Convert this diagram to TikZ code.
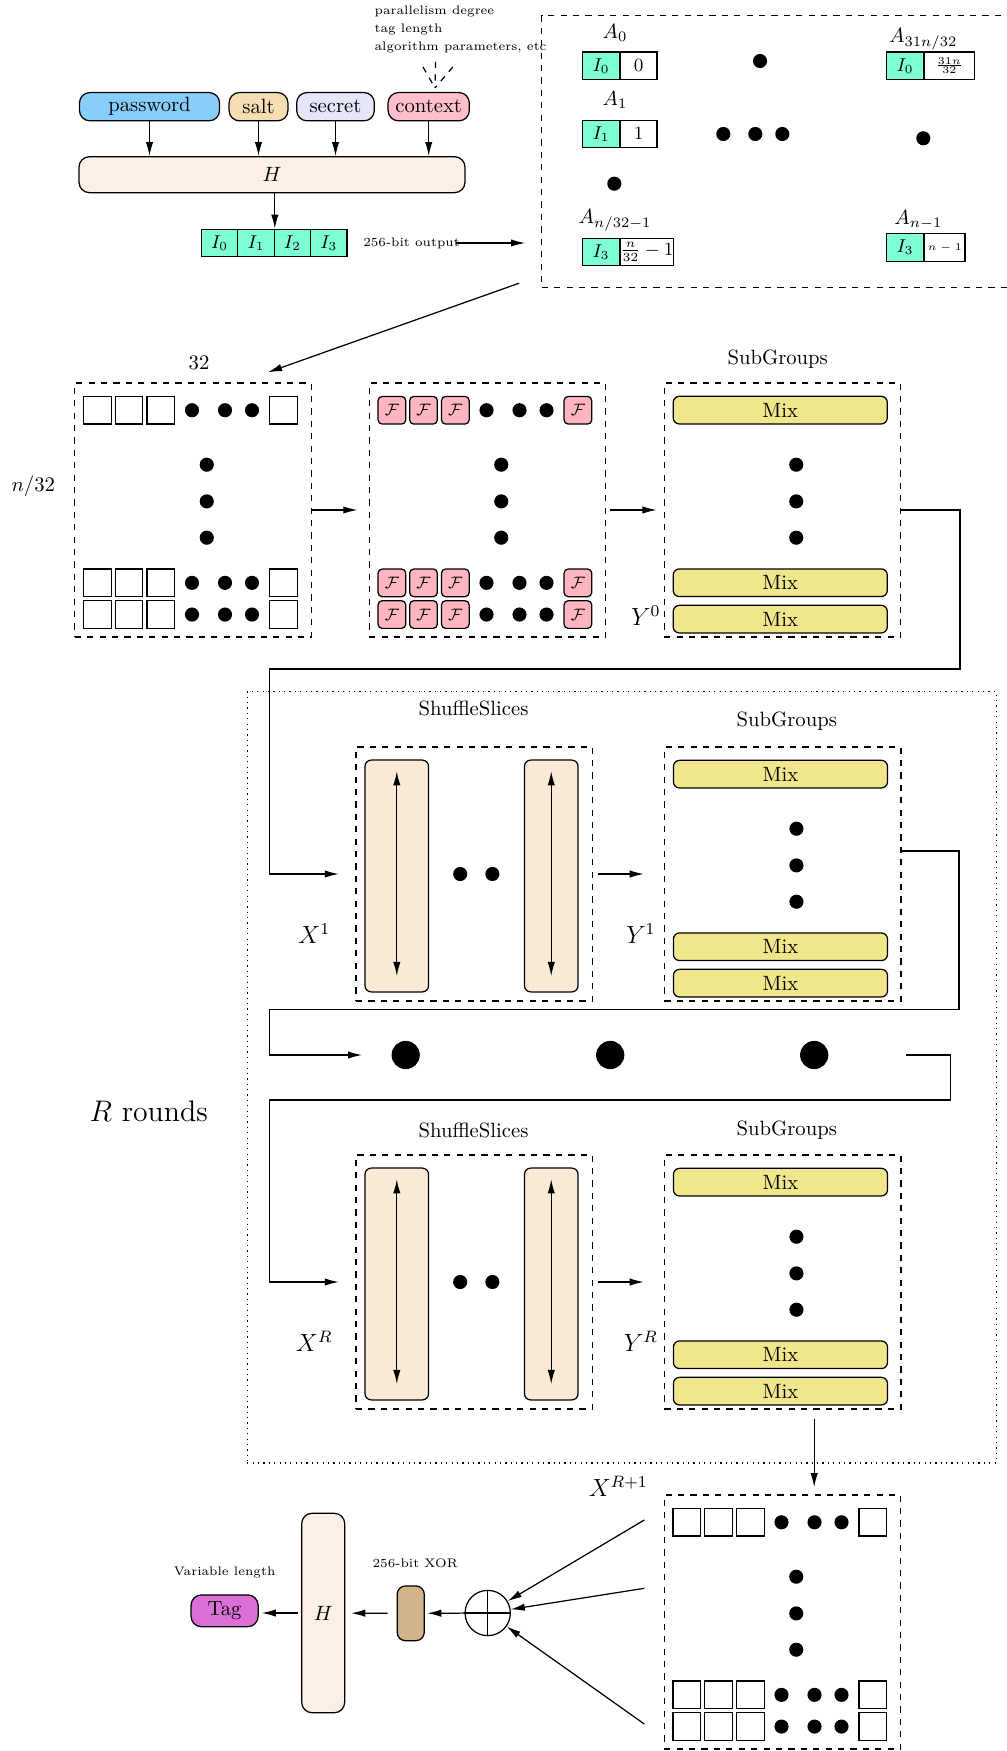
\documentclass[tikz,border=0pt]{standalone}
\usetikzlibrary{arrows.meta, positioning}
\definecolor{pwblue}{RGB}{135,206,250}
\definecolor{saltc}{RGB}{245,222,179}
\definecolor{secretc}{RGB}{230,230,250}
\definecolor{contextc}{RGB}{255,192,203}
\definecolor{hlinen}{RGB}{250,240,230}
\definecolor{aqua}{RGB}{127,255,212}
\definecolor{fpink}{RGB}{255,182,193}
\definecolor{mixc}{RGB}{240,230,140}
\definecolor{shufc}{RGB}{250,235,215}
\definecolor{tanc}{RGB}{210,180,140}
\definecolor{tagc}{RGB}{218,112,214}
\tikzset{
  >={Latex[length=2.4mm, width=1.25mm]},
  inbox/.style = {draw, rounded corners=5pt, minimum height=0.48cm, inner sep=1pt},
  hashbox/.style = {draw, rounded corners=5pt, fill=hlinen},
  icell/.style = {draw, fill=aqua, minimum width=0.62cm, minimum height=0.465cm, inner sep=0pt, font=\small},
  vcell/.style = {draw, fill=white, minimum height=0.465cm, inner sep=0pt, font=\small},
  cell/.style = {draw, minimum size=0.47cm, inner sep=0pt},
  fcell/.style = {cell, rounded corners=2pt, fill=fpink, font=\footnotesize},
  blob/.style = {circle, fill, inner sep=0pt, minimum size=0.24cm},
  bigblob/.style = {blob, minimum size=0.48cm},
  block/.style = {draw, dashed, minimum width=4.02cm, minimum height=4.32cm, inner sep=0pt},
  mixbar/.style = {draw, rounded corners=3pt, fill=mixc, minimum width=3.64cm, minimum height=0.47cm, inner sep=0pt},
  slice/.style = {draw, rounded corners=3pt, fill=shufc, minimum height=3.94cm, inner sep=0pt},
  note/.style = {font=\fontsize{6pt}{8.6pt}\selectfont},
}

\begin{document}
\begin{tikzpicture}[x=0.017cm, y=-0.017cm, semithick]
  \useasboundingbox (0,0) rectangle (1006,1751);

  % inputs and first hash
  \node[inbox, fill=pwblue, minimum width=2.38cm] (pw) at (149.5,106.7) {password};
  \node[inbox, fill=saltc, minimum width=1.0cm] (salt) at (258.5,106.7) {salt};
  \node[inbox, fill=secretc, minimum width=1.32cm] (secret) at (335.5,106.7) {secret};
  \node[inbox, fill=contextc, minimum width=1.38cm] (ctx) at (428.7,106.7) {context};
  \node[hashbox, minimum width=6.56cm, minimum height=0.61cm] (H1) at (272,174.7) {$H$};
  \foreach \n in {pw, salt, secret, ctx}
    \draw[->] (\n.south) -- (\n.south |- H1.north);

  \node[note, align=left, anchor=west, inner sep=0pt] (params) at (374,29.5)
    {parallelism degree\\tag length\\algorithm parameters, etc};
  \coordinate (hc) at (435,88);
  \coordinate (h1) at (423,67);
  \coordinate (h2) at (435.6,62);
  \coordinate (h3) at (452.8,67);
  \draw[dashed] (h1) -- (hc) (h2) -- (hc) (h3) -- (hc);

  \foreach \k [count=\i from 0] in {219.6,256,292.4,328.8}
    \node[icell] (i\i) at (\k,243) {$I_\i$};
  \draw[->] (H1.south -| i1.north east) -- (i1.north east);
  \node[note, inner sep=0pt] (outlbl) at (411.5,243) {256-bit output};

  % address box
  \node[block, minimum width=8.13cm, minimum height=4.62cm] (Abox) at (780.85,151.5) {};
  \draw[->, shorten >=0.27cm] ([xshift=-2pt]outlbl.east) -- (outlbl.east -| Abox.west);
  \node[icell] (a0i) at (601,65.8) {$I_0$};
  \node[vcell, minimum width=0.62cm, right=0pt of a0i] (a0v) {$0$};
  \node (a0) at (615,33.3) {$A_0$};
  \node[icell] (a1i) at (601,134) {$I_1$};
  \node[vcell, minimum width=0.62cm, right=0pt of a1i] (a1v) {$1$};
  \node (a1) at (615,100) {$A_1$};
  \node[icell] (a2i) at (601,252) {$I_3$};
  \node[vcell, minimum width=0.85cm, right=0pt of a2i] (a2v) {$\frac{n}{32}-1$};
  \node (a2) at (615,220) {$A_{n/32-1}$};
  \node[icell] (a3i) at (905,65.8) {$I_0$};
  \node[vcell, minimum width=0.85cm, font=\tiny, right=0pt of a3i] (a3v) {$\frac{31n}{32}$};
  \node (a3) at (923.3,39.3) {$A_{31n/32}$};
  \node[icell] (a4i) at (905,247.5) {$I_3$};
  \node[vcell, minimum width=0.69cm, font=\tiny, right=0pt of a4i] (a4v) {$n-1$};
  \node (a4) at (918.3,220) {$A_{n-1}$};
  \foreach \p [count=\i] in {(614.3,183.7),(760,61),(723.3,134),(755.3,134),(782.3,134),(923.3,138.3)}
    \node[blob] (ab\i) at \p {};

  % grid blocks
  \foreach \cx/\cy/\nm in {193/510/xin, 782.5/1622/xout} {
    \node[block] (\nm) at (\cx,\cy) {};
    \foreach \dy [count=\j] in {-99.75,72.85,104.55} {
      \foreach \dx [count=\i] in {-95.6,-64,-32.2,90.4}
        \node[cell] (\nm-c\j\i) at (\cx+\dx,\cy+\dy) {};
      \foreach \dx [count=\i] in {-1,32,59}
        \node[blob] (\nm-d\j\i) at (\cx+\dx,\cy+\dy) {};
    }
    \foreach \dy [count=\j] in {-45.3,-8.6,27.7}
      \node[blob] (\nm-v\j) at (\cx+13.75,\cy+\dy) {};
  }

  % F block
  \node[block] (fblk) at (487.5,510) {};
  \foreach \dy [count=\j] in {-99.75,72.85,104.55} {
    \foreach \dx [count=\i] in {-95.6,-64,-32.2,90.4}
      \node[fcell] (fblk-c\j\i) at (487.5+\dx,510+\dy) {$\mathcal{F}$};
    \foreach \dx [count=\i] in {-1,32,59}
      \node[blob] (fblk-d\j\i) at (487.5+\dx,510+\dy) {};
  }
  \foreach \dy [count=\j] in {-45.3,-8.6,27.7}
    \node[blob] (fblk-v\j) at (501.25,510+\dy) {};

  % subgroups
  \foreach \cx/\cy/\nm in {782.5/510/sg0, 782.7/874/sg1, 782.7/1282/sgR} {
    \node[block] (\nm) at (\cx,\cy) {};
    \foreach \dy [count=\j] in {-99.85,72.75,109.15}
      \node[mixbar] (\nm-m\j) at (\cx-2.25,\cy+\dy) {Mix};
    \foreach \dy [count=\j] in {-45.3,-8.6,27.7}
      \node[blob] (\nm-v\j) at (\cx+13.75,\cy+\dy) {};
  }

  % shuffle slices
  \foreach \cy/\nm in {874/sh1, 1282/shR} {
    \node[block] (\nm) at (474.25,\cy) {};
    \node[slice, minimum width=1.08cm] (\nm-a) at (396.8,\cy+2) {};
    \node[slice, minimum width=0.91cm] (\nm-b) at (551.25,\cy+2) {};
    \foreach \s in {a,b}
      \draw[<->, shorten <=0.2cm, shorten >=0.28cm] (\nm-\s.north) -- (\nm-\s.south);
    \node[blob] (\nm-d1) at (460.2,\cy) {};
    \node[blob] (\nm-d2) at (492.4,\cy) {};
  }

  % rounds
  \node[draw, dotted, minimum width=12.73cm, minimum height=13.11cm, inner sep=0pt] (rounds) at (621.7,1077.4) {};
  \node[font=\Large] (rlbl) at (148.7,1111) {$R$ rounds};
  \node[bigblob] (dotA) at (405.7,1055) {};
  \node[bigblob] (dotB) at (610.2,1055) {};
  \node[bigblob] (dotC) at (814.2,1055) {};

  % labels
  \node (w32) at (199,363.3) {$32$};
  \node (h32) at (33.3,486.7) {$n/32$};
  \node (sgl0) at (777.7,359.3) {SubGroups};
  \node (sgl1) at (786.8,721.7) {SubGroups};
  \node (sglR) at (786.8,1130) {SubGroups};
  \node (shl1) at (473.5,708.3) {ShuffleSlices};
  \node (shlR) at (473.5,1130) {ShuffleSlices};
  \node[font=\large] (y0) at (645.7,616) {$Y^0$};
  \node[font=\large] (x1) at (314.2,933.3) {$X^1$};
  \node[font=\large] (y1) at (640.9,933.3) {$Y^1$};
  \node[font=\large] (xr) at (314.2,1341.7) {$X^R$};
  \node[font=\large] (yr) at (640.9,1341.7) {$Y^R$};
  \node[font=\large] (xr1) at (618.3,1486.7) {$X^{R+1}$};

  % connectors
  \draw[->] ([shift={(-22,-4.8)}]Abox.south west) -- ([shift={(75,-10)}]xin.north);
  \draw[->, shorten >=0.19cm] (xin.east) -- (fblk.west);
  \draw[->, shorten <=0.07cm, shorten >=0.12cm] (fblk.east) -- (sg0.west);
  \draw[->, shorten <=0.09cm, shorten >=0.34cm] (sh1.east) -- (sg1.west);
  \draw[->, shorten <=0.09cm, shorten >=0.34cm] (shR.east) -- (sgR.west);

  \coordinate (back1) at (960,669);
  \coordinate (left1) at (269.6,669);
  \draw[->, shorten >=0.28cm] (sg0.east) -| (back1) -- (left1) |- (sh1.west);
  \coordinate (back2) at (959,1009.3);
  \coordinate (left2) at (269.6,1009.3);
  \draw[->, shorten >=0.49cm] ([yshift=0.39cm]sg1.east) -| (back2) -- (left2) |- (dotA);
  \coordinate (back3) at (950.3,1100);
  \coordinate (left3) at (269.6,1100);
  \draw[->, shorten <=1.31cm, shorten >=0.28cm] (dotC) -| (back3) -- (left3) |- (shR.west);
  \draw[->, shorten <=0.16cm, shorten >=0.12cm] ([xshift=0.535cm]sgR.south) -- ([xshift=0.535cm]sgR.south |- xout.north);

  % final hash
  \node[draw, circle, minimum size=0.77cm, inner sep=0pt] (xor) at (487.7,1613) {};
  \draw (xor.north) -- (xor.south) (xor.west) -- (xor.east);
  \coordinate (t1) at (644.3,1520);
  \coordinate (t2) at (644.3,1588.3);
  \coordinate (t3) at (644.3,1724);
  \foreach \t in {t1,t2,t3}
    \draw[->] (\t) -- (xor);
  \node[draw, rounded corners=4pt, fill=tanc, minimum width=0.46cm, minimum height=0.93cm, inner sep=0pt] (xorout) at (410.7,1613.3) {};
  \node[note] (xorlbl) at (415.2,1563.3) {256-bit XOR};
  \node[hashbox, minimum width=0.73cm, minimum height=3.39cm, inner sep=0pt] (H2) at (323.2,1613) {$H$};
  \node[inbox, fill=tagc, minimum width=1.14cm, minimum height=0.54cm] (tag) at (224.6,1610.8) {Tag};
  \node[note] (taglbl) at (224.6,1572.3) {Variable length};
  \draw[->, shorten >=0.04cm] (xor) -- (xorout);
  \draw[->, shorten <=0.15cm, shorten >=0.1cm] (xorout) -- (H2);
  \draw[->, shorten <=0.05cm, shorten >=0.05cm] (H2.west) -- (H2.west -| tag.east);
\end{tikzpicture}
\end{document}
